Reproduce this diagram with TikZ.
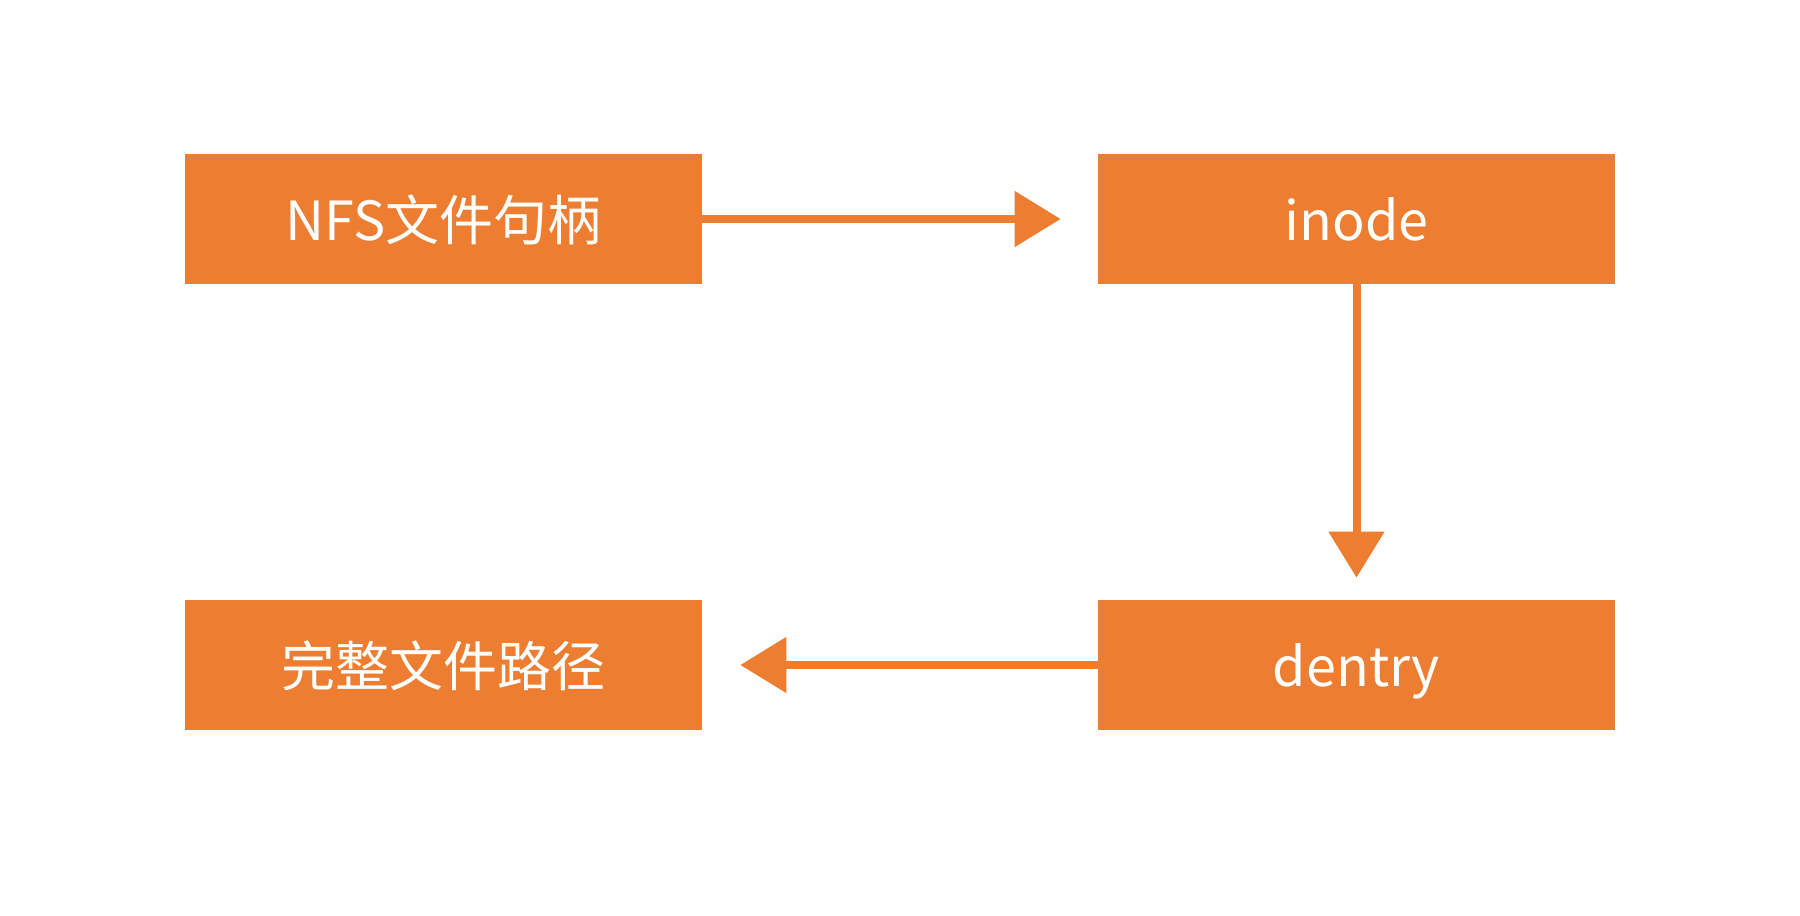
\documentclass[tikz,border=0pt]{standalone}
\usepackage{fontspec}
\setmainfont{Noto Sans CJK SC}
\usetikzlibrary{arrows.meta}
\definecolor{chengse}{HTML}{ED7D31}

\begin{document}
\begin{tikzpicture}[x=.02cm, y=-.02cm,
	kuang/.style={fill=chengse, text=white, minimum width=10.34cm, minimum height=2.6cm, inner sep=0pt, text height=1cm, text depth=.14cm, font=\fontsize{30.7}{36}\selectfont},
	jiantou/.style={draw=chengse, line width=.16cm, -{Triangle[length=.92cm, width=1.08cm]}}]
	
\useasboundingbox (0,0) rectangle (1800,916);

\node [kuang] (jubing) at (443.5,219) {NFS文件句柄};
\node [kuang] (inode) at (1356.5,219) {inode};
\node [kuang] (dentry) at (1356.5,665) {dentry};
\node [kuang] (lujing) at (443.5,665) {完整文件路径};

\draw [jiantou, shorten >=.74cm] (jubing) -- (inode);
\draw [jiantou, shorten >=.44cm] (inode) -- (dentry);
\draw [jiantou, shorten >=.76cm] (dentry) -- (lujing);
	\end{tikzpicture}
\end{document}
